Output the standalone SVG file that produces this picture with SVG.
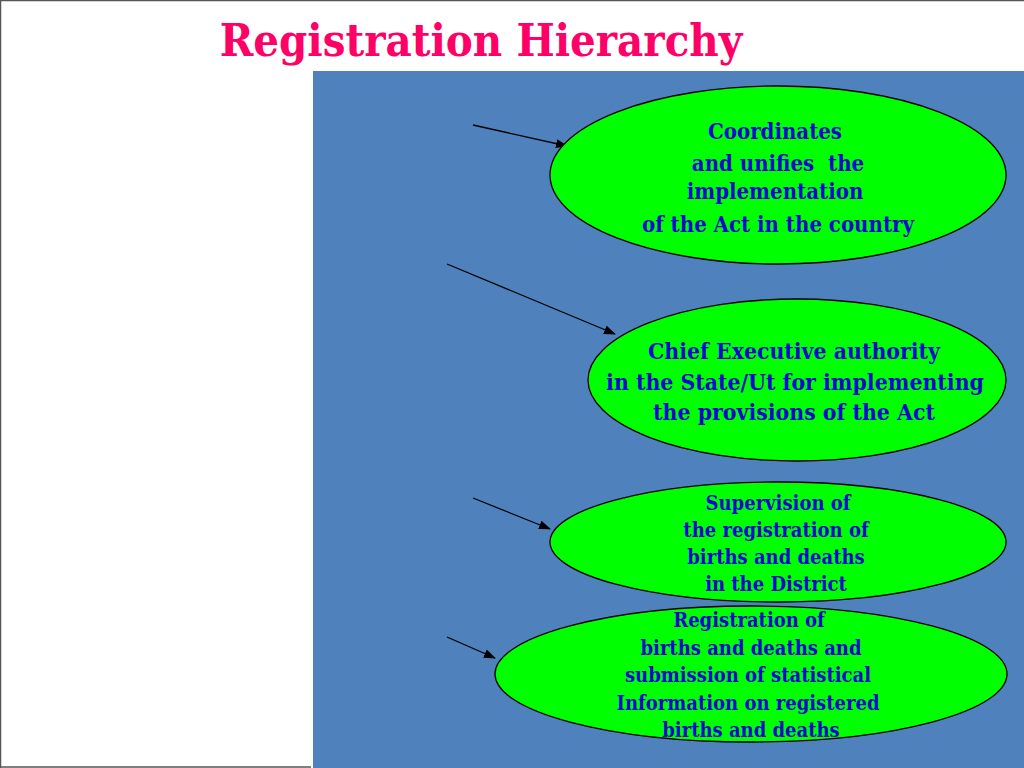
<svg xmlns="http://www.w3.org/2000/svg" width="1024" height="768" viewBox="0 0 1024 768">
<defs>
<marker id="ah" markerWidth="12" markerHeight="9" refX="11" refY="4.5" orient="auto" markerUnits="userSpaceOnUse">
<path d="M0,0 L12,4.5 L0,9 Z" fill="#000"/>
</marker>
<style>
.node ellipse{fill:#00FF00;stroke:#000;stroke-width:1.3}
.node text{font-family:"DejaVu Serif",serif;font-weight:bold;font-stretch:condensed;fill:#0808D0;text-anchor:middle;white-space:pre}
.t1 text{font-size:22px}
.t2 text{font-size:22.8px}
.t3 text{font-size:20px}
.conn line{stroke:#000;stroke-width:1.3;marker-end:url(#ah)}
</style>
</defs>
<rect x="0" y="0" width="1024" height="768" fill="#fff"/>
<path d="M0.5,768 V0.5 H1024" fill="none" stroke="#555" stroke-width="1.5"/>
<line x1="0" y1="767" x2="311" y2="767" stroke="#555" stroke-width="1.5"/>
<rect x="313" y="71" width="711" height="697" fill="#4F81BD"/>
<text x="481" y="56" font-family="DejaVu Serif" font-weight="bold" font-stretch="condensed" font-size="45" fill="#FF0066" text-anchor="middle">Registration Hierarchy</text>
<g id="connectors" class="conn">
<line x1="473" y1="125" x2="567" y2="146"/>
<line x1="447" y1="264" x2="615" y2="334"/>
<line x1="473" y1="498" x2="550" y2="529"/>
<line x1="447" y1="637" x2="495" y2="658"/>
</g>
<g id="node1" class="node t1">
<ellipse cx="778" cy="175" rx="228" ry="89"/>
<text x="775" y="139">Coordinates</text>
<text x="778" y="171" xml:space="preserve">and unifies  the</text>
<text x="775" y="199">implementation</text>
<text x="778" y="232">of the Act in the country</text>
</g>
<g id="node2" class="node t2">
<ellipse cx="797" cy="380" rx="209" ry="81"/>
<text x="794" y="359">Chief Executive authority</text>
<text x="795" y="390">in the State/Ut for implementing</text>
<text x="794" y="420">the provisions of the Act</text>
</g>
<g id="node3" class="node t3">
<ellipse cx="778" cy="542" rx="228" ry="60"/>
<text x="778" y="510">Supervision of</text>
<text x="776" y="537">the registration of</text>
<text x="776" y="564">births and deaths</text>
<text x="776" y="591">in the District</text>
</g>
<g id="node4" class="node t3">
<ellipse cx="751" cy="674" rx="256" ry="68"/>
<text x="749" y="627">Registration of</text>
<text x="751" y="655">births and deaths and</text>
<text x="748" y="682">submission of statistical</text>
<text x="748" y="710">Information on registered</text>
<text x="751" y="737">births and deaths</text>
</g>
</svg>
